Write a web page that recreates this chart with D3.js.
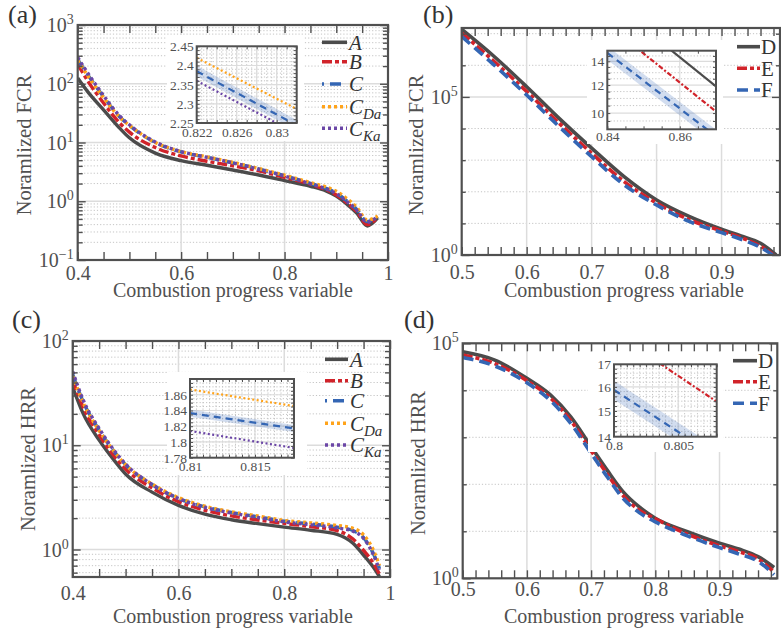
<!DOCTYPE html>
<html><head><meta charset="utf-8">
<script src="https://cdn.jsdelivr.net/npm/d3@7"></script>
<style>
body{margin:0;background:#fff}
svg{display:block}
</style></head><body>
<script>
// ---------------- DATA ----------------
// Panel (a): normalized FCR vs progress variable
const progA = [0.40,0.42,0.45,0.48,0.50,0.55,0.60,0.65,0.70,0.75,0.80,0.85,0.88,0.90,0.92,0.94,0.96,0.98];
const fcrA   = [125,72,36,18,12,6.6,4.9,4.1,3.4,2.8,2.25,1.8,1.5,1.22,0.9,0.62,0.38,0.52];
const fcrB   = [215,110,47,22,15,8.2,5.9,4.8,4.0,3.3,2.55,1.95,1.58,1.28,0.95,0.66,0.40,0.53];
const fcrC   = [260,140,60,28,19.5,10,6.9,5.6,4.5,3.55,2.72,2.02,1.66,1.38,1.02,0.72,0.45,0.55];
const fcrCDa = [250,135,58,27.5,19.5,10,7.0,5.7,4.6,3.6,2.78,2.08,1.75,1.48,1.12,0.78,0.48,0.56];
const fcrCKa = [280,150,63,29,20,10.2,7.0,5.6,4.5,3.5,2.68,1.98,1.63,1.35,1.0,0.70,0.44,0.55];
// inset (a)
const insAx = [0.822,0.832];
const insAC = [2.385,2.244], insACLo = [2.371,2.230], insACHi = [2.399,2.258];
const insACDa = [2.42,2.2865], insACKa = [2.36,2.2225];

// Panel (b)
const progB = [0.50,0.55,0.60,0.65,0.70,0.75,0.80,0.85,0.90,0.93,0.96,0.984];
const fcrD = [1.38e7,1.9e6,2.1e5,2.1e4,2400,300,55,16.6,6.5,4.0,2.35,1.0];
const fcrE = [1.05e7,1.32e6,1.48e5,1.48e4,1660,209,43.7,13.2,5.75,3.55,1.9,0.89];
const fcrF = [8.1e6,1.02e6,1.15e5,1.15e4,1290,166,38,11.5,5.1,3.16,1.74,0.85];
// inset (b)
const insBx = [0.84,0.87];
const insBD = [21.0,11.9], insBE = [17.8,10.1];
const insBF = [14.8,8.6], insBFLo = [14.15,8.22], insBFHi = [15.45,8.98];

// Panel (c): normalized HRR
const progC = [0.40,0.42,0.45,0.48,0.50,0.55,0.60,0.65,0.70,0.75,0.80,0.85,0.90,0.93,0.95,0.97,0.98];
const hrrA   = [36,20,11.2,7,5.3,3.55,2.65,2.18,1.93,1.77,1.64,1.53,1.40,1.15,0.885,0.66,0.55];
const hrrB   = [42,23,12.6,7.7,5.9,3.9,2.88,2.38,2.1,1.92,1.78,1.66,1.52,1.26,0.98,0.72,0.58];
const hrrC   = [48,26,14,8.5,6.5,4.2,3.1,2.56,2.27,2.06,1.87,1.76,1.64,1.52,1.30,0.88,0.66];
const hrrCDa = [46,25.5,13.8,8.5,6.5,4.25,3.15,2.6,2.3,2.1,1.9,1.8,1.70,1.60,1.38,0.95,0.70];
const hrrCKa = [51,27,14.5,8.7,6.6,4.2,3.08,2.53,2.24,2.03,1.84,1.73,1.61,1.50,1.28,0.86,0.64];
// inset (c)
const insCx = [0.81,0.818];
const insCC = [1.8366,1.8171], insCCLo = [1.8321,1.8126], insCCHi = [1.8411,1.8216];
const insCCDa = [1.8667,1.8456], insCCKa = [1.814,1.7924];

// Panel (d)
const progD = [0.50,0.55,0.60,0.637,0.668,0.70,0.725,0.75,0.775,0.80,0.85,0.90,0.93,0.96,0.985];
const hrrD = [6.6e4,4.4e4,1.8e4,7.9e3,2.75e3,630,200,69,33,19,9.8,5.6,4.2,2.9,1.7];
const hrrE = [5.6e4,3.7e4,1.6e4,6.8e3,2.3e3,520,165,57,28,18.5,8.7,4.9,3.7,2.6,1.35];
const hrrF = [5.0e4,3.3e4,1.45e4,6.0e3,2.0e3,460,145,50,25,15.9,8.0,4.5,3.3,2.3,1.2];
// inset (d)
const insDx = [0.80,0.808];
const insDE = [18.5,15.38];
const insDF = [15.87,13.26], insDFLo = [15.47,12.93], insDFHi = [16.27,13.59];

// tick labels
const xLabA = [0.4,0.6,0.8,1], yLabA = [0.1,1,10,100,1000];
const xLabB = [0.5,0.6,0.7,0.8,0.9], yLabB = [1,1e5];
const xLabC = [0.4,0.6,0.8,1], yLabC = [1,10,100];
const xLabD = [0.5,0.6,0.7,0.8,0.9], yLabD = [1,1e5];
const insAxLab = [0.822,0.826,0.83], insAyLab = [2.25,2.3,2.35,2.4,2.45];
const insBxLab = [0.84,0.86], insByLab = [10,12,14];
const insCxLab = [0.81,0.815], insCyLab = [1.78,1.8,1.82,1.84,1.86];
const insDxLab = [0.8,0.805], insDyLab = [14,15,16,17];

const legA = [["A"],["B"],["C"],["C","Da"],["C","Ka"]];
const legB = [["D"],["E"],["F"]];

// ---------------- STYLE ----------------
const FONT = "'Liberation Serif','Times New Roman',serif";
const INK = "#505050";
const S = {
  A:{color:"#4b4b4b", dash:null, idash:null},
  B:{color:"#d1232a", dash:"10,3,4,3", idash:"5,2,2,2"},
  C:{color:"#3466b4", dash:"11,6", idash:"7,5"},
  CDa:{color:"#ffa31a", dash:"3,3", idash:"2,2.5"},
  CKa:{color:"#6b46a6", dash:"3,3", idash:"2,2.5"}
};

const svg = d3.select("body").append("svg").attr("width",781).attr("height",632);
let clipN = 0;

function logMinor(lo, hi) {
  const out = [];
  for (let e = Math.floor(Math.log10(lo)); e <= Math.ceil(Math.log10(hi)); e++)
    for (let k = 2; k <= 9; k++) { const v = k * Math.pow(10, e); if (v > lo && v < hi) out.push(v); }
  return out;
}

function axes(c) {
  const g = svg.append("g");
  const X = c.x, Y = c.y;
  const [xl, xr] = X.range(), [yb, yt] = Y.range();
  if (c.bg) g.append("rect").attr("x",c.bg[0]).attr("y",c.bg[1]).attr("width",c.bg[2]).attr("height",c.bg[3]).attr("fill","#fff");
  const gr = g.append("g");
  const hl = (vals, stroke, w, dash) => gr.append("g").selectAll("line").data(vals).join("line")
    .attr("x1",xl).attr("x2",xr).attr("y1",d=>Y(d)).attr("y2",d=>Y(d))
    .attr("stroke",stroke).attr("stroke-width",w).attr("stroke-dasharray",dash);
  const vl = (vals, stroke, w, dash) => gr.append("g").selectAll("line").data(vals).join("line")
    .attr("y1",yb).attr("y2",yt).attr("x1",d=>X(d)).attr("x2",d=>X(d))
    .attr("stroke",stroke).attr("stroke-width",w).attr("stroke-dasharray",dash);
  hl(c.yGm||[], "#c4c4c4", 1, "1.2,2");
  vl(c.xGm||[], "#c4c4c4", 1, "1.2,2");
  hl(c.yGM||[], "#dcdcdc", c.gw||1.5, null);
  vl(c.xGM||[], "#dcdcdc", c.gw||1.5, null);
  c.g = g;
  return g;
}

function ticksAndFrame(c) {
  const g = c.g, X = c.x, Y = c.y;
  const [xl, xr] = X.range(), [yb, yt] = Y.range();
  const mk = (axis, sc, vals, len, tr) => {
    const a = g.append("g").attr("transform",tr)
      .call(axis(sc).tickValues(vals).tickSize(len).tickFormat(""));
    a.select(".domain").remove();
    a.attr("color", INK).selectAll("line").attr("stroke-width", c.tw||1.4);
  };
  mk(d3.axisBottom, X, c.xT, -c.tl, `translate(0,${yb})`);
  mk(d3.axisTop, X, c.xT, -c.tl, `translate(0,${yt})`);
  mk(d3.axisLeft, Y, c.yT, -c.tl, `translate(${xl},0)`);
  mk(d3.axisRight, Y, c.yT, -c.tl, `translate(${xr},0)`);
  if (c.yTm) {
    mk(d3.axisLeft, Y, c.yTm, -c.tlm, `translate(${xl},0)`);
    mk(d3.axisRight, Y, c.yTm, -c.tlm, `translate(${xr},0)`);
  }
  g.append("rect").attr("x",xl).attr("y",yt).attr("width",xr-xl).attr("height",yb-yt)
    .attr("fill","none").attr("stroke",INK).attr("stroke-width",c.fw||2.2);
  // x labels
  const xa = g.append("g").attr("transform",`translate(0,${yb})`)
    .call(d3.axisBottom(X).tickValues(c.xL).tickSize(0).tickPadding(0).tickFormat(d=>String(d)));
  xa.select(".domain").remove();
  xa.attr("font-family",FONT).attr("font-size",c.fs);
  xa.selectAll("text").attr("fill",INK).attr("dy",null).attr("y",c.xly);
  // y labels
  const ya = g.append("g").attr("transform",`translate(${xl},0)`)
    .call(d3.axisLeft(Y).tickValues(c.yL).tickSize(0).tickPadding(c.ylp).tickFormat(c.pow ? "" : d=>String(d)));
  ya.select(".domain").remove();
  ya.attr("font-family",FONT).attr("font-size",c.fs);
  ya.selectAll("text").attr("fill",INK).attr("dy","0.33em");
  if (c.pow) {
    ya.selectAll(".tick text").each(function(d){
      const t = d3.select(this);
      const e = Math.round(Math.log10(d));
      t.append("tspan").text("10");
      t.append("tspan").attr("dy",-8).attr("font-size",c.fs*0.7).text(e < 0 ? "\u2212" + (-e) : String(e));
    });
  }
}

function series(c, xs, ys, st, w, inset) {
  const id = "clip" + (clipN++);
  const [xl, xr] = c.x.range(), [yb, yt] = c.y.range();
  svg.append("clipPath").attr("id",id).append("rect").attr("x",xl).attr("y",yt).attr("width",xr-xl).attr("height",yb-yt);
  const line = d3.line().x(d=>c.x(d[0])).y(d=>c.y(d[1])).curve(d3.curveMonotoneX);
  c.g.append("path").datum(xs.map((v,i)=>[v,ys[i]])).attr("d",line)
    .attr("fill","none").attr("stroke",st.color).attr("stroke-width",w)
    .attr("stroke-dasharray", inset ? st.idash : st.dash).attr("clip-path",`url(#${id})`);
}
function band(c, xs, lo, hi, color) {
  const id = "clip" + (clipN++);
  const [xl, xr] = c.x.range(), [yb, yt] = c.y.range();
  svg.append("clipPath").attr("id",id).append("rect").attr("x",xl).attr("y",yt).attr("width",xr-xl).attr("height",yb-yt);
  const ar = d3.area().x((d,i)=>c.x(xs[i])).y0((d,i)=>c.y(lo[i])).y1((d,i)=>c.y(hi[i]));
  c.g.append("path").datum(xs).attr("d",ar).attr("fill",color).attr("fill-opacity",0.22).attr("clip-path",`url(#${id})`);
}

function legend(items, keys, x0, x1, tx, rows, italic, dashOff) {
  const g = svg.append("g");
  items.forEach((it, i) => {
    const st = S[keys[i]];
    g.append("line").attr("x1",x0).attr("x2",x1).attr("y1",rows[i]).attr("y2",rows[i])
      .attr("stroke",st.color).attr("stroke-width",3.6).attr("stroke-dasharray",st.dash)
      .attr("stroke-dashoffset", keys[i]==="C" ? dashOff : 0);
    const t = g.append("text").attr("x",tx).attr("y",rows[i]).attr("dy","0.35em")
      .attr("font-family",FONT).attr("font-size",21).attr("fill","#333")
      .attr("font-style", italic ? "italic" : null);
    t.append("tspan").text(it[0]);
    if (it[1]) t.append("tspan").attr("dy",5).attr("font-size",15).text(it[1]);
  });
}

function titles(xt, xtY, yt, ytX, ytY, lab, labX, labY, xname, yname) {
  svg.append("text").attr("x",xt).attr("y",xtY).attr("text-anchor","middle")
    .attr("font-family",FONT).attr("font-size",20).attr("fill",INK).text(xname);
  svg.append("text").attr("transform",`translate(${ytX},${ytY}) rotate(-90)`).attr("text-anchor","middle")
    .attr("font-family",FONT).attr("font-size",20.5).attr("fill",INK).text(yname);
  svg.append("text").attr("x",labX).attr("y",labY).attr("font-family",FONT).attr("font-size",26).attr("fill","#333").text(lab);
}

// ---------------- PANEL (a) ----------------
const pa = {
  x: d3.scaleLinear().domain([0.4,1.0]).range([77.7,388]),
  y: d3.scaleLog().domain([0.1,1000]).range([260,25]),
  xGM:[0.6,0.8], yGM:[1,10,100], yGm: logMinor(0.1,1000),
  xT: d3.range(0.4,1.001,0.05), yT:[0.1,1,10,100,1000], yTm: logMinor(0.1,1000), tl:8, tlm:5,
  xL:xLabA, yL:yLabA, pow:true, fs:20, xly:19.5, ylp:4
};
axes(pa);
[[fcrA,"A"],[fcrB,"B"],[fcrC,"C"],[fcrCDa,"CDa"],[fcrCKa,"CKa"]].forEach(([d,k])=>series(pa,progA,d,S[k],3.4));
ticksAndFrame(pa);
// inset (a)
const ia = {
  x: d3.scaleLinear().domain([0.822,0.832]).range([196.7,296.7]),
  y: d3.scaleLinear().domain([2.25,2.45]).range([123,46.3]),
  bg:[167,35,137,106],
  xGM:[0.824,0.826,0.828,0.83], yGM:[2.3,2.35,2.4],
  xGm: d3.range(0.8225,0.832,0.0005), yGm: d3.range(2.26,2.45,0.01),
  xT: d3.range(0.822,0.8321,0.001), yT: d3.range(2.25,2.451,0.01), tl:3,
  xL:insAxLab, yL:insAyLab, fs:13.5, xly:14, ylp:3, gw:1.2, fw:2, tw:1
};
axes(ia);
band(ia, insAx, insACLo, insACHi, S.C.color);
series(ia, insAx, insACDa, S.CDa, 2.2, true);
series(ia, insAx, insACKa, S.CKa, 2.2, true);
series(ia, insAx, insAC, S.C, 2.2, true);
ticksAndFrame(ia);
legend(legA, ["A","B","C","CDa","CKa"], 322, 347, 349, [42.3,61.7,84,106.7,128.3], true, -8);
titles(233, 297, 0, 31, 145, "(a)", 8, 23, "Combustion progress variable", "Noramlized FCR");

// ---------------- PANEL (b) ----------------
const pb = {
  x: d3.scaleLinear().domain([0.5,0.99]).range([461.7,780]),
  y: d3.scaleLog().domain([1,Math.pow(10,7.18)]).range([255,28]),
  xGM:[0.6,0.7,0.8,0.9], yGM:[1e5], yGm:[10,100,1e3,1e4,1e6,1e7],
  xT: d3.range(0.5,0.99,0.02), yT:[1,1e5], yTm:[10,100,1e3,1e4,1e6,1e7], tl:8, tlm:4,
  xL:xLabB, yL:yLabB, pow:true, fs:20, xly:23.5, ylp:4
};
axes(pb);
[[fcrD,"A"],[fcrE,"B"],[fcrF,"C"]].forEach(([d,k])=>series(pb,progB,d,S[k],3.6));
ticksAndFrame(pb);
const ib = {
  x: d3.scaleLinear().domain([0.84,0.87]).range([607.3,716]),
  y: d3.scaleLog().domain([9,15]).range([129.3,50.7]),
  bg:[587,40,136,104],
  xGM:[0.86], yGM:[10,12,14], yGm:[9.5,10.5,11,11.5,12.5,13,13.5,14.5],
  xT: d3.range(0.84,0.8701,0.005), yT:[9.5,10,10.5,11,11.5,12,12.5,13,13.5,14,14.5], tl:3,
  xL:insBxLab, yL:insByLab, fs:13.5, xly:11.5, ylp:3, gw:1.2, fw:2, tw:1
};
axes(ib);
band(ib, insBx, insBFLo, insBFHi, S.C.color);
series(ib, insBx, insBD, S.A, 2.2, true);
series(ib, insBx, insBE, S.B, 2.2, true);
series(ib, insBx, insBF, S.C, 2.2, true);
ticksAndFrame(ib);
legend(legB, ["A","B","C"], 737, 760, 761, [46.7,68.3,90], false, 0);
titles(624, 297, 0, 423, 145, "(b)", 423, 23, "Combustion progress variable", "Noramlized FCR");

// ---------------- PANEL (c) ----------------
const pc = {
  x: d3.scaleLinear().domain([0.4,1.0]).range([72.7,390]),
  y: d3.scaleLog().domain([0.545,100]).range([577,341]),
  xGM:[0.6,0.8], yGM:[1,10], yGm: logMinor(0.545,100),
  xT: d3.range(0.4,1.001,0.05), yT:[1,10,100], yTm: logMinor(0.545,100), tl:8, tlm:5,
  xL:xLabC, yL:yLabC, pow:true, fs:20, xly:22.5, ylp:4
};
axes(pc);
[[hrrA,"A"],[hrrB,"B"],[hrrC,"C"],[hrrCDa,"CDa"],[hrrCKa,"CKa"]].forEach(([d,k])=>series(pc,progC,d,S[k],3.4));
ticksAndFrame(pc);
const ic = {
  x: d3.scaleLinear().domain([0.81,0.818]).range([190,294]),
  y: d3.scaleLinear().domain([1.78,1.88]).range([457.7,379]),
  bg:[167,372,140,103],
  xGM:[0.815], yGM:[1.8,1.82,1.84,1.86],
  xGm: d3.range(0.8105,0.818,0.0005), yGm: d3.range(1.785,1.88,0.005),
  xT: d3.range(0.81,0.8181,0.0005), yT: d3.range(1.78,1.8801,0.005), tl:3,
  xL:insCxLab, yL:insCyLab, fs:13.5, xly:13.5, ylp:3, gw:1.2, fw:2, tw:1
};
axes(ic);
band(ic, insCx, insCCLo, insCCHi, S.C.color);
series(ic, insCx, insCCDa, S.CDa, 2.2, true);
series(ic, insCx, insCCKa, S.CKa, 2.2, true);
series(ic, insCx, insCC, S.C, 2.2, true);
ticksAndFrame(ic);
legend(legA, ["A","B","C","CDa","CKa"], 325, 348, 350, [359.3,380.7,400.7,423.3,445], true, -8);
titles(233, 623, 0, 35, 459, "(c)", 12, 328, "Combustion progress variable", "Noramlized HRR");

// ---------------- PANEL (d) ----------------
const pd = {
  x: d3.scaleLinear().domain([0.5,0.99]).range([462.7,777.3]),
  y: d3.scaleLog().domain([1,1e5]).range([578.3,343.3]),
  xGM:[0.6,0.7,0.8,0.9], yGM:[], yGm:[10,100,1e3,1e4],
  xT: d3.range(0.5,0.99,0.02), yT:[1,1e5], yTm:[10,100,1e3,1e4], tl:8, tlm:4,
  xL:xLabD, yL:yLabD, pow:true, fs:20, xly:18, ylp:4
};
axes(pd);
[[hrrD,"A"],[hrrE,"B"],[hrrF,"C"]].forEach(([d,k])=>series(pd,progD,d,S[k],3.6));
ticksAndFrame(pd);
const id_ = {
  x: d3.scaleLinear().domain([0.8,0.808]).range([614,716.7]),
  y: d3.scaleLog().domain([14,17]).range([436.7,364.3]),
  bg:[588,352,135,100],
  xGM:[0.805], yGM:[15,16],
  xGm: d3.range(0.8005,0.808,0.0005), yGm:[14.2,14.4,14.6,14.8,15.2,15.4,15.6,15.8,16.2,16.4,16.6,16.8],
  xT: d3.range(0.8,0.8081,0.0005), yT:[14.2,14.4,14.6,14.8,15,15.2,15.4,15.6,15.8,16,16.2,16.4,16.6,16.8], tl:3,
  xL:insDxLab, yL:insDyLab, fs:13.5, xly:13.5, ylp:3, gw:1.2, fw:2, tw:1
};
axes(id_);
band(id_, insDx, insDFLo, insDFHi, S.C.color);
series(id_, insDx, insDE, S.B, 2.2, true);
series(id_, insDx, insDF, S.C, 2.2, true);
ticksAndFrame(id_);
legend(legB, ["A","B","C"], 733, 757, 758, [360.7,381.7,403.3], false, 0);
titles(624, 623, 0, 425, 463, "(d)", 404, 328, "Combustion progress variable", "Noramlized HRR");
</script>
</body></html>
